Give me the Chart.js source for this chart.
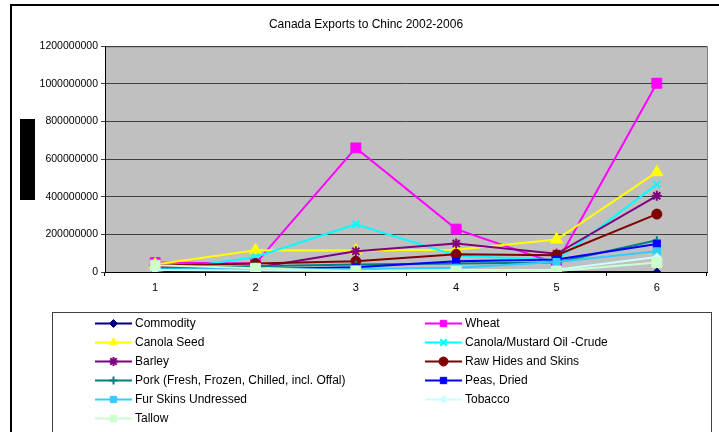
<!DOCTYPE html>
<html>
<head>
<meta charset="utf-8">
<script src="https://cdn.jsdelivr.net/npm/chart.js@4/dist/chart.umd.min.js"></script>
<style>
  html, body { margin: 0; padding: 0; background: #fff; }
  #wrap { width: 719px; height: 432px; position: relative; }
</style>
</head>
<body>
<div id="wrap"><canvas id="chart" width="719" height="432"></canvas></div>
<script>
const categories = ['1', '2', '3', '4', '5', '6'];
const yTicks = [0, 200000000, 400000000, 600000000, 800000000, 1000000000, 1200000000];

const seriesNames = [
  'Commodity', 'Wheat', 'Canola Seed', 'Canola/Mustard Oil -Crude',
  'Barley', 'Raw Hides and Skins', 'Pork (Fresh, Frozen, Chilled, incl. Offal)',
  'Peas, Dried', 'Fur Skins Undressed', 'Tobacco', 'Tallow'
];

const commodity = [0, 0, 0, 0, 0, 0];
const wheat = [50000000, 45000000, 660000000, 228000000, 45000000, 1004000000];
const canolaSeed = [40000000, 116000000, 114000000, 119000000, 173000000, 531000000];
const canolaOil = [3000000, 80000000, 254000000, 88000000, 62000000, 466000000];
const barley = [30000000, 23000000, 110000000, 151000000, 97000000, 405000000];
const rawHides = [35000000, 45000000, 57000000, 94000000, 89000000, 308000000];
const pork = [20000000, 30000000, 40000000, 45000000, 50000000, 169000000];
const peas = [10000000, 15000000, 25000000, 57000000, 66000000, 149000000];
const furSkins = [15000000, 15000000, 15000000, 23000000, 53000000, 110000000];
const tobacco = [10000000, 8000000, 5000000, 10000000, 12000000, 80000000];
const tallow = [36000000, 20000000, 5000000, 5000000, 5000000, 50000000];

const seriesValues = [commodity, wheat, canolaSeed, canolaOil, barley, rawHides,
  pork, peas, furSkins, tobacco, tallow];

// colour, marker, marker radius
const looks = [
  ['#000080', 'rectRot', 4],
  ['#FF00FF', 'rect', 7],
  ['#FFFF00', 'triangle', 7],
  ['#00FFFF', 'crossRot', 5],
  ['#800080', 'star', 5],
  ['#800000', 'circle', 5],
  ['#008080', 'cross', 4],
  ['#0000FF', 'rect', 5],
  ['#33CCFF', 'rect', 5],
  ['#CCFFFF', 'rectRot', 4],
  ['#CCFFCC', 'rect', 7]
];

const thin = s => s === 'crossRot' || s === 'cross' || s === 'star';

// later series sit on top, as in the original, so hand them over reversed
const datasets = seriesNames.map((name, i) => {
  const [color, shape, r] = looks[i];
  return {
    label: name,
    data: seriesValues[i],
    borderColor: color,
    backgroundColor: color,
    borderWidth: 2,
    pointStyle: shape,
    pointRadius: r,
    pointBorderWidth: thin(shape) ? 2 : 1,
    pointBorderColor: color,
    pointBackgroundColor: color,
    tension: 0
  };
}).reverse();

const frame = {
  id: 'frame',
  beforeDraw(chart) {
    const { ctx, chartArea: a } = chart;
    ctx.save();
    ctx.fillStyle = '#C0C0C0';
    ctx.fillRect(a.left, a.top, a.right - a.left, a.bottom - a.top);
    ctx.strokeStyle = '#808080';
    ctx.lineWidth = 1;
    ctx.strokeRect(a.left + 0.5, a.top + 0.5, a.right - a.left, a.bottom - a.top);
    ctx.restore();
  },
  afterDraw(chart) {
    const { ctx } = chart;
    ctx.save();
    // outer chart border
    ctx.strokeStyle = '#000';
    ctx.lineWidth = 2;
    ctx.beginPath();
    ctx.moveTo(11, 432);
    ctx.lineTo(11, 5);
    ctx.lineTo(719, 5);
    ctx.stroke();
    // y axis title block
    ctx.fillStyle = '#000';
    ctx.fillRect(20, 119, 15, 81);
    // legend box
    ctx.strokeStyle = '#404040';
    ctx.lineWidth = 1;
    ctx.strokeRect(52.5, 312.5, 659, 130);
    ctx.font = '12px "Liberation Sans", Arial, sans-serif';
    ctx.textBaseline = 'middle';
    ctx.textAlign = 'left';
    seriesNames.forEach((name, i) => {
      const [color, shape, r] = looks[i];
      const col = i % 2, row = Math.floor(i / 2);
      const y = 323.5 + row * 19;
      const x0 = col === 0 ? 95 : 425;
      ctx.strokeStyle = color;
      ctx.lineWidth = 2;
      ctx.beginPath();
      ctx.moveTo(x0, y);
      ctx.lineTo(x0 + 37, y);
      ctx.stroke();
      ctx.fillStyle = color;
      ctx.strokeStyle = color;
      ctx.lineWidth = thin(shape) ? 2 : 1;
      Chart.helpers.drawPoint(ctx, { pointStyle: shape, radius: Math.min(r, 4.5), rotation: 0, borderWidth: ctx.lineWidth }, x0 + 18.5, y);
      ctx.fillStyle = '#000';
      ctx.fillText(name, x0 + 40, y);
    });
    ctx.restore();
  }
};

new Chart(document.getElementById('chart'), {
  type: 'line',
  data: { labels: categories, datasets: datasets },
  options: {
    responsive: false,
    animation: false,
    layout: { padding: { left: 25, right: 12, top: 0, bottom: 130 } },
    plugins: {
      legend: { display: false },
      tooltip: { enabled: false },
      title: {
        display: true,
        text: 'Canada Exports to Chinc 2002-2006',
        color: '#000',
        font: { family: '"Liberation Sans", Arial, sans-serif', size: 12, weight: 'normal' },
        padding: { top: 17, bottom: 15 }
      }
    },
    scales: {
      x: {
        offset: true,
        grid: { offset: true, drawOnChartArea: false, color: '#000', tickLength: 4 },
        border: { color: '#000', width: 1 },
        ticks: { color: '#000', font: { family: '"Liberation Sans", Arial, sans-serif', size: 11 }, padding: 5 },
        afterFit(s) { s.height = 30; }
      },
      y: {
        min: 0,
        max: 1200000000,
        afterBuildTicks(s) { s.ticks = yTicks.map(v => ({ value: v })); },
        grid: { color: '#404040', tickLength: 4 },
        border: { color: '#000', width: 1 },
        ticks: {
          color: '#000',
          padding: 3,
          font: { family: '"Liberation Sans", Arial, sans-serif', size: 10.5 },
          callback: v => String(v)
        },
        afterFit(s) { s.width = 80; }
      }
    }
  },
  plugins: [frame]
});
</script>
</body>
</html>
